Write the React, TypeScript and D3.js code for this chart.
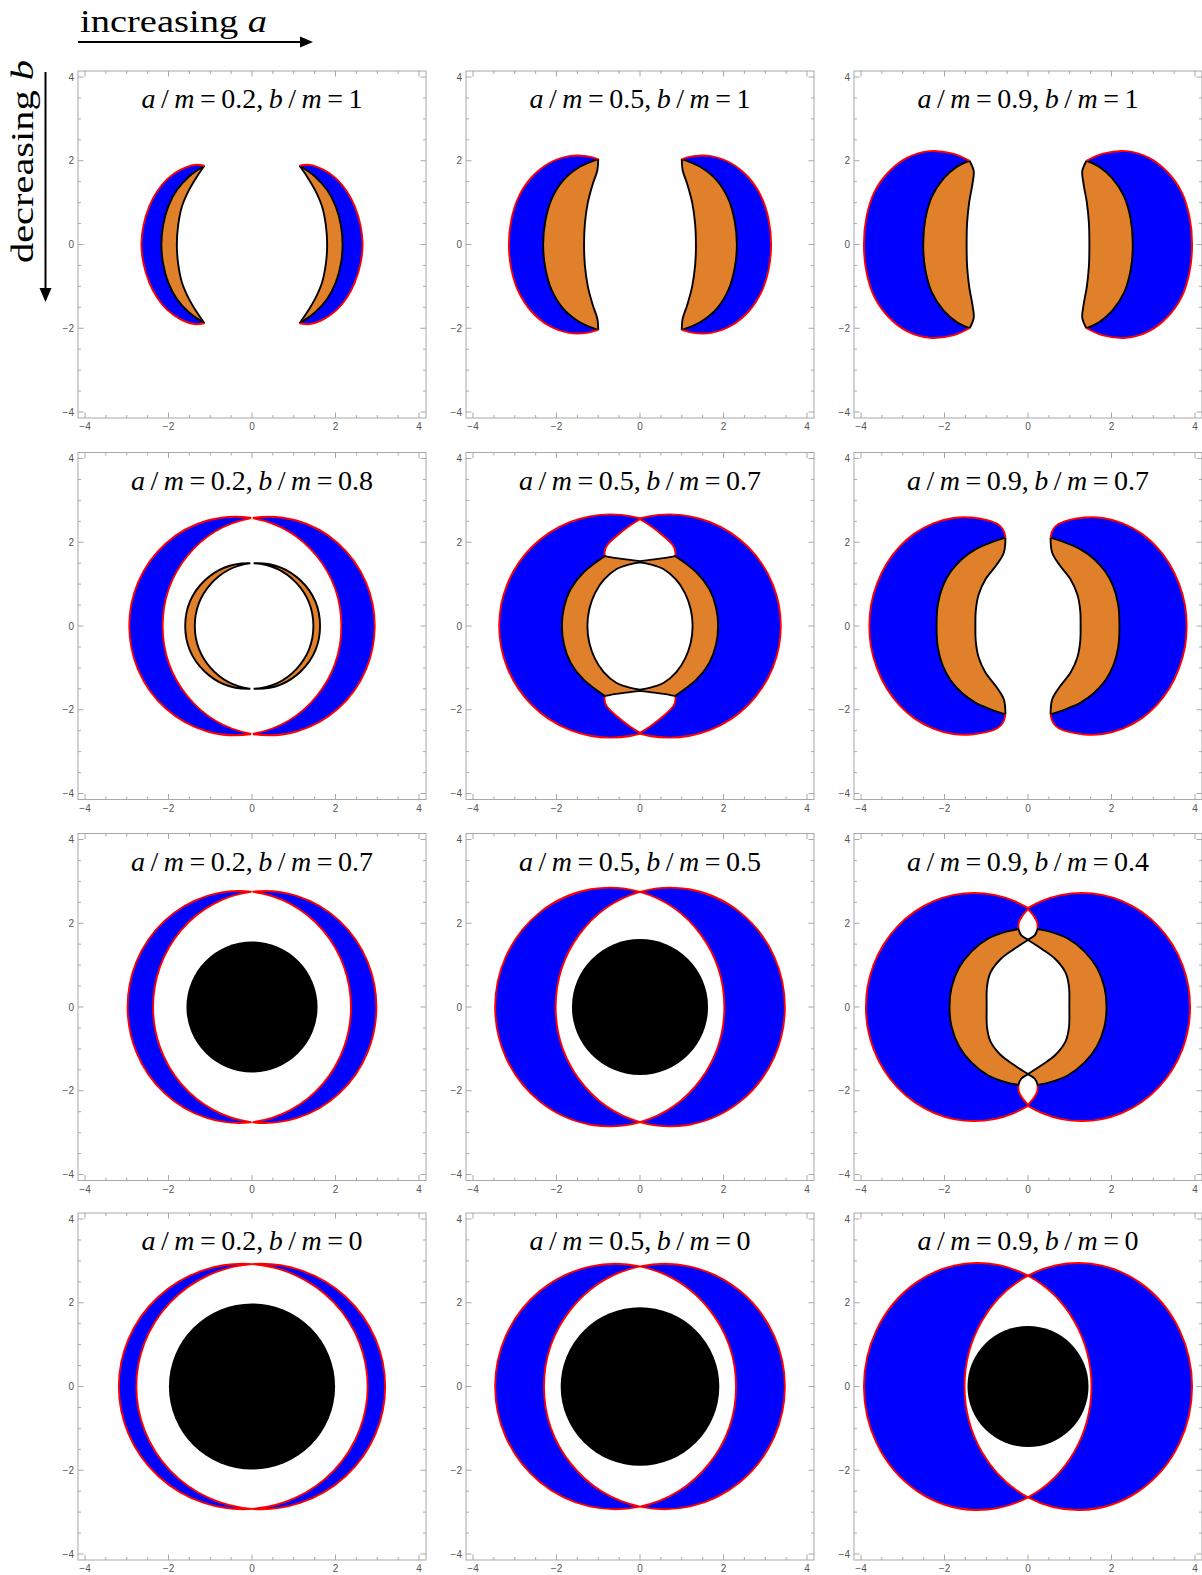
import React from "react";
import * as d3 from "d3";

type Pt = [number, number];

const BLUE = "#0000ff";
const ORANGE = "#e0802a";
const RED = "#ff0000";
const FRAME = "#a8a8a8";
const TICKTXT = "#555555";

const W = 348;
const H = 347;
const colLeft = [78, 466, 854];
const rowTop = [71, 452.5, 833.5, 1213];
const majorTicks = [-4, -2, 0, 2, 4];
const minorTicks = [-3.5, -3, -2.5, -1.5, -1, -0.5, 0.5, 1, 1.5, 2.5, 3, 3.5];

const aLabels = ["0.2", "0.5", "0.9"];
const bLabels = [
  ["1", "1", "1"],
  ["0.8", "0.7", "0.7"],
  ["0.7", "0.5", "0.4"],
  ["0", "0", "0"],
];

// ---------- separated crescents: upper-left quarter curves (from y=0 up to the tip)
const r1c1Red: Pt[] = [[-2.65, 0], [-2.6, 0.45], [-2.46, 0.91], [-2.27, 1.27], [-2.03, 1.56], [-1.72, 1.78], [-1.38, 1.9], [-1.14, 1.88]];
const r1c1Edge: Pt[] = [[-2.17, 0], [-2.13, 0.45], [-2.01, 0.9], [-1.8, 1.3], [-1.5, 1.63], [-1.14, 1.88]];
const r1c1Inner: Pt[] = [[-1.8, 0], [-1.77, 0.45], [-1.68, 0.9], [-1.52, 1.28], [-1.32, 1.62], [-1.14, 1.88]];

const r1c2Red: Pt[] = [[-3.14, 0], [-3.08, 0.6], [-2.9, 1.15], [-2.6, 1.6], [-2.18, 1.94], [-1.7, 2.11], [-1.28, 2.11], [-1.0, 2.04]];
const r1c2Edge: Pt[] = [[-2.32, 0], [-2.27, 0.55], [-2.12, 1.08], [-1.85, 1.52], [-1.45, 1.85], [-1.0, 2.04]];
const r1c2Inner: Pt[] = [[-1.34, 0], [-1.32, 0.5], [-1.25, 1.0], [-1.13, 1.45], [-1.02, 1.78], [-1.0, 2.04]];

const r1c3Red: Pt[] = [[-3.93, 0], [-3.87, 0.65], [-3.68, 1.25], [-3.35, 1.72], [-2.9, 2.07], [-2.35, 2.23], [-1.8, 2.17], [-1.4, 2.0]];
const r1c3Edge: Pt[] = [[-2.51, 0], [-2.46, 0.6], [-2.3, 1.15], [-2.02, 1.58], [-1.7, 1.86], [-1.4, 2.0]];
const r1c3Inner: Pt[] = [[-1.47, 0], [-1.46, 0.5], [-1.41, 1.0], [-1.33, 1.45], [-1.3, 1.75], [-1.4, 2.0]];

const r2c3Red: Pt[] = [[-3.8, 0], [-3.76, 0.5], [-3.62, 1.0], [-3.38, 1.5], [-3.07, 1.9], [-2.73, 2.2], [-2.27, 2.45], [-1.79, 2.58], [-1.35, 2.59], [-0.98, 2.53], [-0.72, 2.43], [-0.59, 2.29], [-0.54, 2.11]];
const r2c3Edge: Pt[] = [[-2.19, 0], [-2.16, 0.51], [-2.04, 0.95], [-1.85, 1.3], [-1.58, 1.6], [-1.26, 1.83], [-0.9, 1.99], [-0.54, 2.11]];
const r2c3Inner: Pt[] = [[-1.26, 0], [-1.25, 0.38], [-1.18, 0.76], [-1.02, 1.11], [-0.76, 1.45], [-0.58, 1.75], [-0.54, 2.11]];

// ---------- two-lobe panels: lobe centre offset, half-width, half-height, gap at x=0
const r2c1Lobes = [0.4, 2.54, 2.61, 0.08];
const r2c2Lobes = [0.7, 2.65, 2.644, 0];
const r3c1Lobes = [0.305, 2.675, 2.77, 0.06];
const r3c2Lobes = [0.725, 2.745, 2.85, 0];
const r3c3Lobes = [1.29, 2.57, 2.7, 0];
const r4c1Lobes = [0.21, 2.98, 2.93, 0];
const r4c2Lobes = [0.585, 2.885, 2.93, 0];
const r4c3Lobes = [1.205, 2.725, 2.95, 0];

// shadow disk radii
const r3c1Disk = 1.57;
const r3c2Disk = 1.63;
const r4c1Disk = 1.99;
const r4c2Disk = 1.9;
const r4c3Disk = 1.45;

// r2c1 inner orange crescents: [outer centre, outer radius, inner centre, inner radius]
const r2c1OrangeLeft = [-0.1, 1.5, 0.14, 1.51];
const r2c1OrangeRight = [0.13, 1.5, -0.03, 1.5];
const r2c1OrangeGap = 0.12;

// r2c2 inner structure
const r2c2Cap: Pt[] = [[0, 2.55], [-0.24, 2.4], [-0.56, 2.15], [-0.8, 1.91], [-0.85, 1.75], [-0.84, 1.67]];
const r2c2CapBottom: Pt[] = [[-0.84, 1.67], [-0.56, 1.62], [-0.24, 1.58], [0, 1.55]];
const r2c2RingOuter: Pt[] = [[-1.87, 0], [-1.82, 0.45], [-1.66, 0.88], [-1.35, 1.28], [-0.84, 1.67]];
const r2c2Hole: Pt[] = [[-1.26, 0], [-1.215, 0.4], [-1.08, 0.78], [-0.87, 1.1], [-0.56, 1.36], [-0.25, 1.47], [0, 1.52]];

// r3c3 inner structure
const r3c3Cap: Pt[] = [[0, 2.335], [-0.14, 2.17], [-0.22, 2.02], [-0.23, 1.86]];
const r3c3CapBottom: Pt[] = [[-0.23, 1.86], [-0.16, 1.71], [0, 1.61]];
const r3c3RingOuter: Pt[] = [[-1.88, 0], [-1.83, 0.47], [-1.65, 0.94], [-1.35, 1.33], [-0.96, 1.63], [-0.52, 1.8], [-0.23, 1.86]];
const r3c3Hole: Pt[] = [[-0.99, 0], [-0.98, 0.5], [-0.9, 0.82], [-0.66, 1.14], [-0.34, 1.38], [0, 1.6]];

// ---------- scales & helpers
const xS = d3.scaleLinear().domain([-4, 4]).range([7, 341]);
const yS = d3.scaleLinear().domain([-4, 4]).range([341, 6]);

const lineGen = d3
  .line<Pt>()
  .x((d) => xS(d[0]))
  .y((d) => yS(d[1]))
  .curve(d3.curveCatmullRom.alpha(0.5));

const rev = (p: Pt[]): Pt[] => [...p].reverse();
const mx = (p: Pt[]): Pt[] => p.map(([x, y]) => [-x, y] as Pt);
const my = (p: Pt[]): Pt[] => p.map(([x, y]) => [x, -y] as Pt);
const half = (q: Pt[]): Pt[] => [...rev(q), ...my(q).slice(1)];
const open = (p: Pt[]) => lineGen(p) || "";
const closed = (...segs: Pt[][]) =>
  segs.map((s, i) => (i === 0 ? open(s) : open(s).replace(/^M/, "L"))).join("") + "Z";

const SW = 1.9;

// crescent bounded by an outer and an inner ellipse (centred on y=0), cut at x = xc
type Ell = { cx: number; rx: number; ry: number };
function crescentD(o: Ell, i: Ell, xc: number, side: number): string {
  const yAt = (e: Ell) => e.ry * Math.sqrt(Math.max(0, 1 - ((xc - e.cx) / e.rx) ** 2));
  const yo = yAt(o);
  const yi = yAt(i);
  const px = (e: Ell) => [xS(e.rx) - xS(0), yS(0) - yS(e.ry)];
  const [orx, ory] = px(o);
  const [irx, iry] = px(i);
  const left = side < 0;
  const lo = left ? (xc > o.cx ? 1 : 0) : xc < o.cx ? 1 : 0;
  const li = left ? (xc > i.cx ? 1 : 0) : xc < i.cx ? 1 : 0;
  const so = left ? 0 : 1;
  const si = left ? 1 : 0;
  const X = xS(xc);
  return (
    `M${X},${yS(yo)}A${orx},${ory} 0 ${lo} ${so} ${X},${yS(-yo)}` +
    `L${X},${yS(-yi)}A${irx},${iry} 0 ${li} ${si} ${X},${yS(yi)}Z`
  );
}

function SplitCrescents({ red, edge, inner }: { red: Pt[]; edge: Pt[]; inner: Pt[] }) {
  return (
    <g>
      {[false, true].map((mirror) => {
        const f = (p: Pt[]) => (mirror ? mx(p) : p);
        const R = f(half(red));
        const B1 = f(half(edge));
        const B2 = f(half(inner));
        return (
          <g key={String(mirror)}>
            <path d={closed(R, rev(B2))} fill={BLUE} />
            <path d={closed(B1, rev(B2))} fill={ORANGE} />
            <path d={open(B1)} fill="none" stroke="#000" strokeWidth={SW} />
            <path d={open(B2)} fill="none" stroke="#000" strokeWidth={SW} />
            <path d={open(R)} fill="none" stroke={RED} strokeWidth={SW} />
          </g>
        );
      })}
    </g>
  );
}

function Lobes({ p, union }: { p: number[]; union?: boolean }) {
  const [c, rx, ry, gap] = p;
  const L: Ell = { cx: -c, rx, ry };
  const R: Ell = { cx: c, rx, ry };
  if (union) {
    const ell = (e: Ell) => ({
      cx: xS(e.cx),
      cy: yS(0),
      rx: xS(e.rx) - xS(0),
      ry: yS(0) - yS(e.ry),
    });
    return (
      <g>
        <ellipse {...ell(L)} fill={BLUE} stroke={RED} strokeWidth={3.8} />
        <ellipse {...ell(R)} fill={BLUE} stroke={RED} strokeWidth={3.8} />
        <ellipse {...ell(L)} fill={BLUE} />
        <ellipse {...ell(R)} fill={BLUE} />
      </g>
    );
  }
  return (
    <g>
      <path d={crescentD(L, R, -gap / 2, -1)} fill={BLUE} stroke={RED} strokeWidth={SW} />
      <path d={crescentD(R, L, gap / 2, 1)} fill={BLUE} stroke={RED} strokeWidth={SW} />
    </g>
  );
}

function OrangePair({ left, right, gap }: { left: number[]; right: number[]; gap: number }) {
  const e = (cx: number, r: number): Ell => ({ cx, rx: r, ry: r });
  return (
    <g>
      <path d={crescentD(e(left[0], left[1]), e(left[2], left[3]), -gap / 2, -1)} fill={ORANGE} stroke="#000" strokeWidth={SW} />
      <path d={crescentD(e(right[0], right[1]), e(right[2], right[3]), gap / 2, 1)} fill={ORANGE} stroke="#000" strokeWidth={SW} />
    </g>
  );
}

function Ring({ cap, capBottom, ringOuter, hole }: { cap: Pt[]; capBottom: Pt[]; ringOuter: Pt[]; hole: Pt[] }) {
  const Lside = half(ringOuter);
  const orange = closed(
    Lside,
    my(capBottom),
    rev(mx(my(capBottom))),
    rev(mx(Lside)),
    mx(capBottom),
    rev(capBottom)
  );
  const capTop = closed(cap, capBottom, rev(mx(capBottom)), rev(mx(cap)));
  const capBot = closed(my(cap), my(capBottom), rev(mx(my(capBottom))), rev(mx(my(cap))));
  const H2 = half(hole);
  const holePath = closed(H2, rev(mx(H2)));
  return (
    <g>
      <path d={capTop} fill="#fff" />
      <path d={capBot} fill="#fff" />
      {[cap, mx(cap), my(cap), mx(my(cap))].map((c, i) => (
        <path key={i} d={open(c)} fill="none" stroke={RED} strokeWidth={SW} />
      ))}
      <path d={orange} fill={ORANGE} stroke="#000" strokeWidth={SW} strokeLinejoin="round" />
      <path d={holePath} fill="#fff" stroke="#000" strokeWidth={SW} strokeLinejoin="round" />
    </g>
  );
}

function Disk({ r }: { r: number }) {
  return <circle cx={xS(0)} cy={yS(0)} r={xS(r) - xS(0)} fill="#000" />;
}

function Frame() {
  const fmt = (t: number) => (t < 0 ? `\u2212${-t}` : `${t}`);
  const tk = [
    ...majorTicks.map((t) => ({ t, len: 5.5 })),
    ...minorTicks.map((t) => ({ t, len: 3 })),
  ];
  return (
    <g>
      <rect x={0} y={0} width={W} height={H} fill="none" stroke={FRAME} strokeWidth={1} />
      {tk.map(({ t, len }, i) => (
        <g key={i} stroke={FRAME} strokeWidth={1}>
          <line x1={xS(t)} x2={xS(t)} y1={H} y2={H - len} />
          <line x1={xS(t)} x2={xS(t)} y1={0} y2={len} />
          <line x1={0} x2={len} y1={yS(t)} y2={yS(t)} />
          <line x1={W} x2={W - len} y1={yS(t)} y2={yS(t)} />
        </g>
      ))}
      {majorTicks.map((t) => (
        <text key={`x${t}`} x={xS(t)} y={H + 12} textAnchor="middle" fontSize={10} fill={TICKTXT} fontFamily="'Liberation Sans', Arial, sans-serif">
          {fmt(t)}
        </text>
      ))}
      {majorTicks.map((t) => (
        <text key={`y${t}`} x={-4} y={yS(t) + 3.5} textAnchor="end" fontSize={10} fill={TICKTXT} fontFamily="'Liberation Sans', Arial, sans-serif">
          {fmt(t)}
        </text>
      ))}
    </g>
  );
}

const SERIF = "'Liberation Serif', 'Times New Roman', serif";

function Title({ a, b }: { a: string; b: string }) {
  return (
    <text x={W / 2} y={37} textAnchor="middle" fontFamily={SERIF} fontSize={28} wordSpacing={-1.5} fill="#000">
      <tspan fontStyle="italic">a</tspan>
      {" / "}
      <tspan fontStyle="italic">m</tspan>
      {` = ${a}, `}
      <tspan fontStyle="italic">b</tspan>
      {" / "}
      <tspan fontStyle="italic">m</tspan>
      {` = ${b}`}
    </text>
  );
}

function content(row: number, col: number) {
  const key = `${row}${col}`;
  switch (key) {
    case "00":
      return <SplitCrescents red={r1c1Red} edge={r1c1Edge} inner={r1c1Inner} />;
    case "01":
      return <SplitCrescents red={r1c2Red} edge={r1c2Edge} inner={r1c2Inner} />;
    case "02":
      return <SplitCrescents red={r1c3Red} edge={r1c3Edge} inner={r1c3Inner} />;
    case "10":
      return (
        <g>
          <Lobes p={r2c1Lobes} />
          <OrangePair left={r2c1OrangeLeft} right={r2c1OrangeRight} gap={r2c1OrangeGap} />
        </g>
      );
    case "11":
      return (
        <g>
          <Lobes p={r2c2Lobes} union />
          <Ring cap={r2c2Cap} capBottom={r2c2CapBottom} ringOuter={r2c2RingOuter} hole={r2c2Hole} />
        </g>
      );
    case "12":
      return <SplitCrescents red={r2c3Red} edge={r2c3Edge} inner={r2c3Inner} />;
    case "20":
      return (
        <g>
          <Lobes p={r3c1Lobes} />
          <Disk r={r3c1Disk} />
        </g>
      );
    case "21":
      return (
        <g>
          <Lobes p={r3c2Lobes} />
          <Disk r={r3c2Disk} />
        </g>
      );
    case "22":
      return (
        <g>
          <Lobes p={r3c3Lobes} union />
          <Ring cap={r3c3Cap} capBottom={r3c3CapBottom} ringOuter={r3c3RingOuter} hole={r3c3Hole} />
        </g>
      );
    case "30":
      return (
        <g>
          <Lobes p={r4c1Lobes} />
          <Disk r={r4c1Disk} />
        </g>
      );
    case "31":
      return (
        <g>
          <Lobes p={r4c2Lobes} />
          <Disk r={r4c2Disk} />
        </g>
      );
    default:
      return (
        <g>
          <Lobes p={r4c3Lobes} />
          <Disk r={r4c3Disk} />
        </g>
      );
  }
}

export default function App() {
  return (
    <svg
      width={1202}
      height={1575}
      viewBox="0 0 1202 1575"
      style={{ position: "absolute", left: 0, top: 0, background: "#fff" }}
    >
      <rect x={0} y={0} width={1202} height={1575} fill="#fff" />
      <text x={80} y={32} fontFamily={SERIF} fontSize={31} textLength={187} lengthAdjust="spacingAndGlyphs">
        increasing <tspan fontStyle="italic">a</tspan>
      </text>
      <line x1={78} x2={303} y1={42} y2={42} stroke="#000" strokeWidth={2} />
      <polygon points="313,42 300,36.5 300,47.5" fill="#000" />
      <text
        transform="translate(33,263) rotate(-90)"
        fontFamily={SERIF}
        fontSize={31}
        textLength={203}
        lengthAdjust="spacingAndGlyphs"
      >
        decreasing <tspan fontStyle="italic">b</tspan>
      </text>
      <line x1={45.5} x2={45.5} y1={72} y2={290} stroke="#000" strokeWidth={2} />
      <polygon points="45.5,302 39.5,288 51.5,288" fill="#000" />
      {rowTop.map((ty, r) =>
        colLeft.map((tx, c) => (
          <g key={`p${r}${c}`} transform={`translate(${tx},${ty})`}>
            {content(r, c)}
            <Title a={aLabels[c]} b={bLabels[r][c]} />
            <Frame />
          </g>
        ))
      )}
    </svg>
  );
}
